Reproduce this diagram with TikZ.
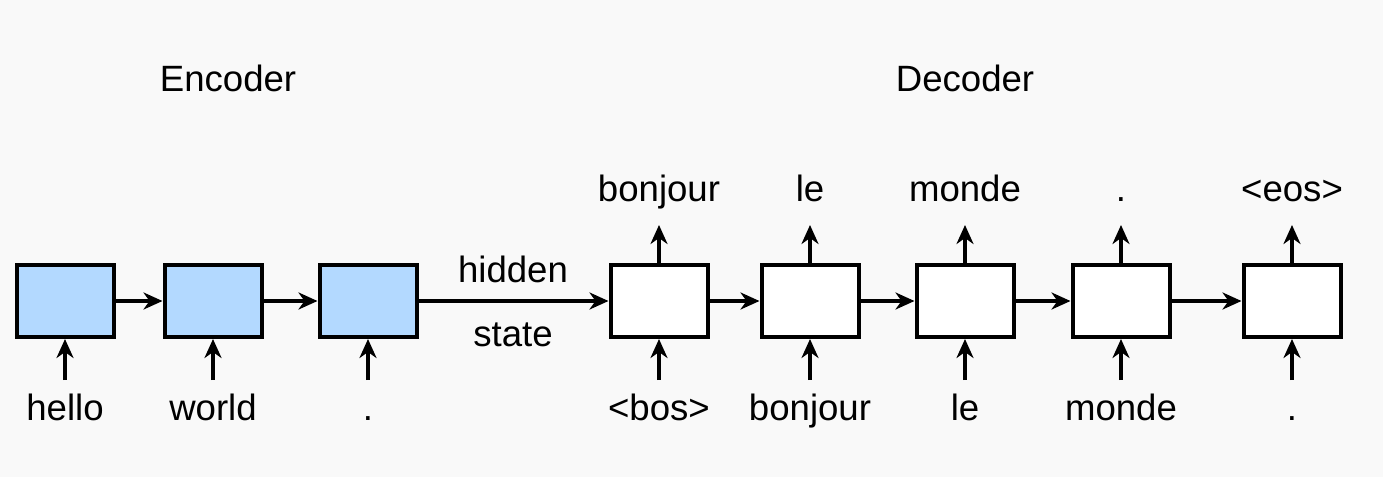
\documentclass[tikz,border=0pt]{standalone}
\usepackage{fontspec}
\setmainfont{Liberation Sans}
\usetikzlibrary{arrows.meta}

\definecolor{encfill}{RGB}{179,217,255}
\definecolor{bgcol}{RGB}{249,249,249}
\tikzset{
  cell/.style={draw,line width=2pt,minimum width=48.5pt,minimum height=36pt,inner sep=0pt},
  enccell/.style={cell,fill=encfill},
  deccell/.style={cell,fill=white},
  word/.style={anchor=base,font=\fontsize{18.3}{20}\selectfont,inner sep=0pt},
  link/.style={-{Stealth[length=9.5pt,width=8.5pt,inset=3pt]},line width=1.9pt},
}

\begin{document}
\begin{tikzpicture}[x=0.5pt,y=-0.5pt]
    \fill[bgcol] (0,0) rectangle (1383,477);
    \useasboundingbox (0,0) rectangle (1383,477);
    \node[word] (enctitle) at (228,91) {Encoder};
    \node[word] (dectitle) at (965,91) {Decoder};
    % encoder cells
    \foreach \n/\x/\w in {1/65/hello,2/213/world,3/368/.}{
      \node[enccell] (enc\n) at (\x,301) {};
      \node[word] (src\n) at (\x,420) {\w};
      \coordinate (srcin\n) at (\x,380);
      \draw[link] (srcin\n) -- (enc\n);
    }
    % decoder cells
    \foreach \n/\x/\w/\o in {
      1/659/\textless bos\textgreater/bonjour,
      2/810/bonjour/le,
      3/965/le/monde,
      4/1121/monde/.,
      5/1292/./\textless eos\textgreater
    }{
      \node[deccell] (dec\n) at (\x,301) {};
      \node[word] (tgt\n) at (\x,420) {\w};
      \node[word] (out\n) at (\x,201) {\o};
      \coordinate (tgtin\n) at (\x,380);
      \coordinate (outtip\n) at (\x,225);
      \draw[link] (tgtin\n) -- (dec\n);
      \draw[link] (dec\n) -- (outtip\n);
    }
    % recurrent links
    \draw[link] (enc1) -- (enc2);
    \draw[link] (enc2) -- (enc3);
    \draw[link] (enc3) -- (dec1);
    \foreach \a/\b in {1/2,2/3,3/4,4/5}{
      \draw[link] (dec\a) -- (dec\b);
    }
    \node[word] (hid) at (513,282) {hidden};
    \node[word] (st) at (513,346) {state};
\end{tikzpicture}
\end{document}
